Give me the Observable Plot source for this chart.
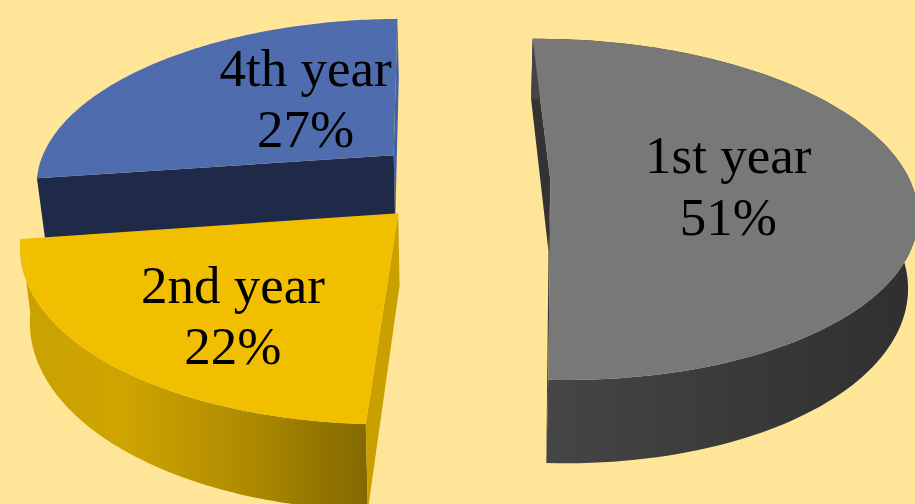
<!DOCTYPE html>
<html>
<head>
<meta charset="utf-8">
<script src="https://cdn.jsdelivr.net/npm/d3@7"></script>
<script src="https://cdn.jsdelivr.net/npm/@observablehq/plot@0.6"></script>
<style>
  html, body { margin: 0; padding: 0; background: #fee598; overflow: hidden; }
  svg { display: block; }
</style>
</head>
<body>
<div id="chart"></div>
<script>
// Students by year of study
const years = ["1st year", "2nd year", "4th year"];
const shares = [51, 22, 27];
const topColors = ["#787878", "#f2bf00", "#4f6cae"];
const cutColors = ["#333333", "#c9a000", "#44629f"];
const frontCutColors = [null, null, "#1f2a48"];
const wallIds = ["wall-grey", "wall-gold", "wall-blue"];

// View of the tilted disc
const view = {xv: 460, y0: 181, rx: 360, ry: 166, k: 0.16, depth: 70, taper: 0.022, explode: 0.25, turn: -1};

// Label placement, relative to each slice's apex
const labelRadius = [0.492, 0.654, 0.481];
const labelTurn = [0.7, -5.3, 14.3];

const rad = (deg) => (deg * Math.PI) / 180;
function project(X, Y, z = 0) {
  const w = 1 + view.k * Y;
  const sx = view.xv + (view.rx * X) / w;
  const sy = view.y0 - (view.ry * Y) / w + (view.depth * z) / w;
  return [view.xv + (sx - view.xv) * (1 - view.taper * z), sy];
}

// Slice angles run clockwise from the top of the disc
const ends = d3.cumsum(shares).map((c) => (c / d3.sum(shares)) * 360);
const slices = years.map((year, i) => {
  const a0 = (i ? ends[i - 1] : 0) + view.turn;
  const a1 = ends[i] + view.turn;
  const mid = (a0 + a1) / 2;
  const ox = view.explode * Math.sin(rad(mid));
  const oy = view.explode * Math.cos(rad(mid));
  const rim = (a, z = 0) => project(ox + Math.sin(rad(a)), oy + Math.cos(rad(a)), z);
  const apex = (z = 0) => project(ox, oy, z);
  const arc = (z = 0) => d3.range(0, 121).map((t) => rim(a0 + ((a1 - a0) * t) / 120, z));
  const face = (a) => [apex(), rim(a), rim(a, 1), apex(1)];
  const la = mid + labelTurn[i];
  const label = project(ox + labelRadius[i] * Math.sin(rad(la)), oy + labelRadius[i] * Math.cos(rad(la)));
  return {
    year, share: shares[i], i, label,
    top: [apex(), ...arc()],
    wall: [...arc(), ...arc(1).reverse()],
    startCut: face(a0),
    endCut: face(a1)
  };
});

const poly = (points, fill) => Plot.line(points, {x: (d) => d[0], y: (d) => d[1], fill, stroke: "none", curve: "linear"});

// Gradients for the curved outer walls
const gradients = () => {
  const defs = d3.create("svg:defs");
  const add = (id, x1, x2, stops) => {
    const g = defs.append("linearGradient").attr("id", id).attr("gradientUnits", "userSpaceOnUse")
      .attr("x1", x1).attr("x2", x2).attr("y1", 0).attr("y2", 0);
    stops.forEach(([o, c]) => g.append("stop").attr("offset", o).attr("stop-color", c));
  };
  add(wallIds[0], 550, 915, [[0, "#454545"], [0.5, "#3a3a3a"], [1, "#2f2f2f"]]);
  add(wallIds[1], 20, 372, [[0, "#c9a200"], [0.3, "#cfa400"], [0.7, "#a88600"], [1, "#806700"]]);
  add(wallIds[2], 30, 400, [[0, "#2f4a85"], [1, "#2f4a85"]]);
  return defs.node();
};

const [grey, gold, blue] = slices;
const chart = Plot.plot({
  width: 915,
  height: 504,
  margin: 0,
  x: {domain: [0, 915], range: [0, 915], axis: null},
  y: {domain: [0, 504], range: [0, 504], axis: null},
  style: {background: "transparent"},
  marks: [
    gradients,
    // 4th year sits behind the 2nd year slice
    poly(blue.endCut, cutColors[2]),
    poly(blue.startCut, frontCutColors[2]),
    poly(blue.top, topColors[2]),
    poly(gold.wall, `url(#${wallIds[1]})`),
    poly(gold.startCut, cutColors[1]),
    poly(gold.top, topColors[1]),
    poly(grey.endCut, cutColors[0]),
    poly(grey.startCut, cutColors[0]),
    poly(grey.wall, `url(#${wallIds[0]})`),
    poly(grey.top, topColors[0]),
    Plot.text(slices, {
      x: (d) => d.label[0],
      y: (d) => d.label[1],
      text: (d) => `${d.year}\n${d.share}%`,
      fontFamily: "Liberation Serif",
      fontSize: 53,
      lineHeight: 1.16,
      fill: "#000",
      textAnchor: "middle",
      lineAnchor: "middle"
    })
  ]
});
document.getElementById("chart").append(chart);
</script>
</body>
</html>
